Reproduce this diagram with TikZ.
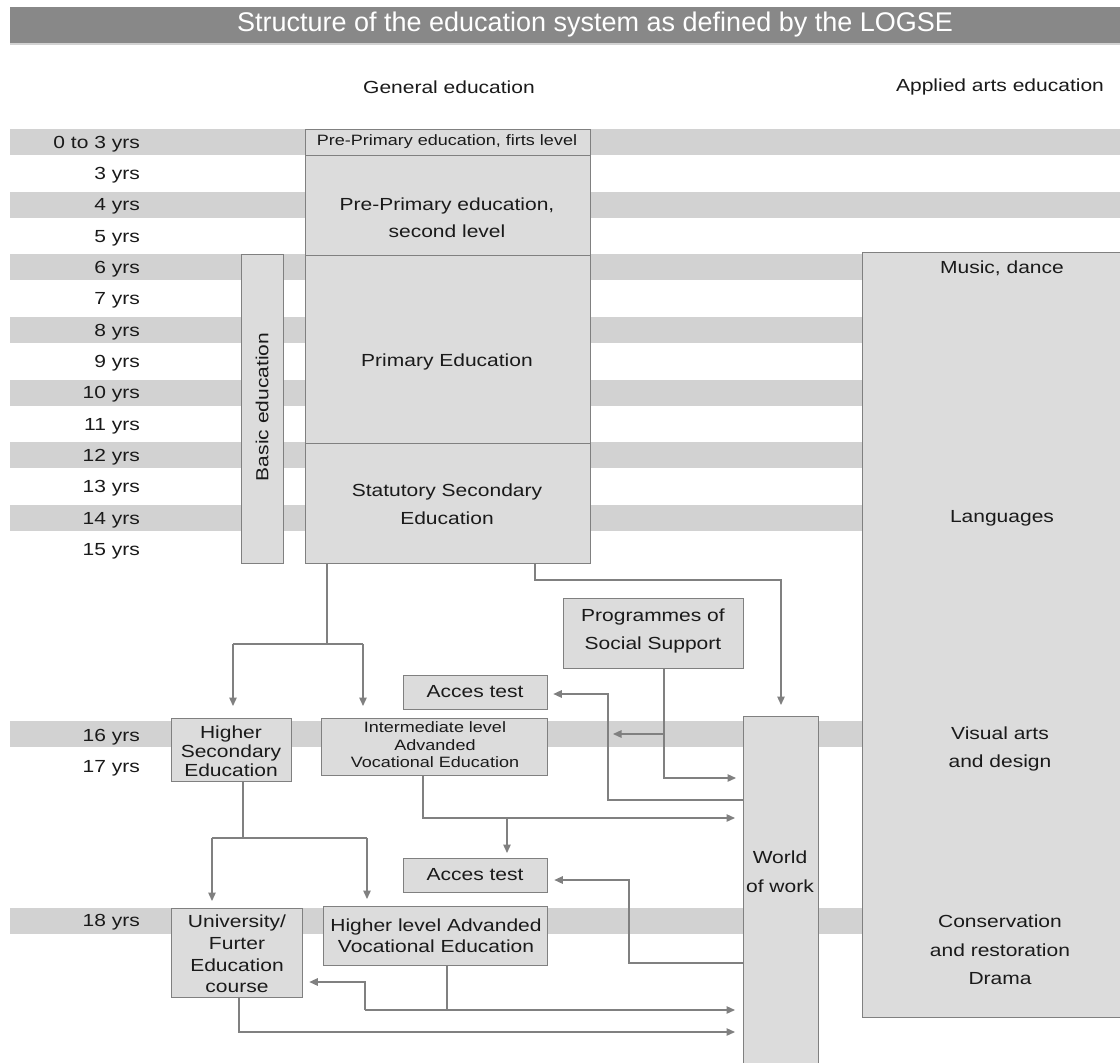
\documentclass[tikz,border=0pt]{standalone}
\usepackage{fontspec}
\setmainfont{Liberation Sans}[FakeStretch=1.2]
\newfontfamily\titlefont{Liberation Sans}
\usetikzlibrary{arrows.meta}
\definecolor{bandgray}{HTML}{D2D2D2}
\definecolor{boxgray}{HTML}{DCDCDC}
\definecolor{linegray}{HTML}{808080}
\definecolor{titlegray}{HTML}{888888}
\definecolor{txtcol}{HTML}{1A1A1A}
\newcommand\fsz[2]{\fontsize{#1}{#2}\selectfont}
\begin{document}
\begin{tikzpicture}[x=1pt,y=-1pt,
  box/.style={draw=linegray, line width=1.3pt, fill=boxgray, inner sep=0pt, anchor=north west},
  lbl/.style={text=txtcol, inner sep=0pt, align=center, font=\fsz{17.5}{21}},
  yrs/.style={text=txtcol, inner sep=0pt, anchor=east, font=\fsz{17.5}{20}, text height=12.5pt, text depth=0pt},
  band/.style={fill=bandgray},
  conn/.style={draw=linegray, line width=1.3pt},
  arr/.style={conn, -{Triangle[length=8.5pt,width=7.5pt]}}]
\useasboundingbox (0,0) rectangle (1120,1063);
\fill[white] (0,0) rectangle (1120,1063);
% title
\fill[titlegray] (10,7) rectangle (1120,43);
\draw[color=bandgray, line width=1.5pt] (10,44) -- (1120,44);
\node[lbl, text=white, font=\titlefont\fsz{27}{30}] (title) at (595,25) {Structure of the education system as defined by the LOGSE};
\node[lbl] (hgen) at (449,87) {General education};
\node[lbl] (harts) at (1000,87) {Applied arts education};
% bands
\foreach \i in {0,2,...,12}{
  \fill[band] (10,{142+31.33*\i-13}) rectangle (1120,{142+31.33*\i+13});
}
\fill[band] (10,721) rectangle (1120,747);
\fill[band] (10,908) rectangle (1120,934);
% row labels
\foreach \t [count=\k from 0] in {0 to 3 yrs,3 yrs,4 yrs,5 yrs,6 yrs,7 yrs,8 yrs,9 yrs,10 yrs,11 yrs,12 yrs,13 yrs,14 yrs,15 yrs}{
  \node[yrs] (row\k) at (140,{142+31.33*\k}) {\t};
}
\node[yrs] (row16) at (140,735) {16 yrs};
\node[yrs] (row17) at (140,766) {17 yrs};
\node[yrs] (row18) at (140,920) {18 yrs};
% boxes
\node[box, minimum width=285pt, minimum height=26pt] (pp1) at (305,129) {};
\node[box, minimum width=285pt, minimum height=100pt] (pp2) at (305,155) {};
\node[box, minimum width=285pt, minimum height=188pt] (prim) at (305,255) {};
\node[box, minimum width=285pt, minimum height=120pt] (stat) at (305,443) {};
\node[box, minimum width=42pt, minimum height=309pt] (basic) at (241,254) {};
\node[box, minimum width=270pt, minimum height=765pt] (arts) at (862,252) {};
\node[box, minimum width=180pt, minimum height=70pt] (prog) at (563,598) {};
\node[box, minimum width=144pt, minimum height=34pt] (acc1) at (403,675) {};
\node[box, minimum width=226pt, minimum height=57pt] (inter) at (321,718) {};
\node[box, minimum width=120pt, minimum height=63pt] (hse) at (171,718) {};
\node[box, minimum width=75pt, minimum height=360pt] (wow) at (743,716) {};
\node[box, minimum width=144pt, minimum height=34pt] (acc2) at (403,858) {};
\node[box, minimum width=224pt, minimum height=59pt] (hlv) at (323,906) {};
\node[box, minimum width=131pt, minimum height=89pt] (univ) at (171,908) {};
% box texts
\node[lbl, font=\fsz{15}{18}] (tpp1) at (447,142) {Pre-Primary education, firts level};
\node[lbl, font=\fsz{17.5}{27}] (tpp2) at (447,218) {Pre-Primary education,\\second level};
\node[lbl] (tprim) at (447,362) {Primary Education};
\node[lbl, font=\fsz{17.5}{28}] (tstat) at (447,504) {Statutory Secondary\\Education};
\node[lbl, rotate=90] (tbasic) at (262,407) {Basic education};
\node[lbl] (tmus) at (1002,268) {Music, dance};
\node[lbl] (tlang) at (1002,518) {Languages};
\node[lbl, font=\fsz{17.5}{28}] (tvis) at (1000,749) {Visual arts\\and design};
\node[lbl, font=\fsz{17.5}{28.5}] (tcons) at (1000,950) {Conservation\\and restoration\\Drama};
\node[lbl, font=\fsz{17.5}{28}] (tprog) at (653,631) {Programmes of\\Social Support};
\node[lbl] (tacc1) at (475,692) {Acces test};
\node[lbl] (tacc2) at (475,875) {Acces test};
\node[lbl, font=\fsz{15}{17.5}] (tinter) at (435,745) {Intermediate level\\Advanded\\Vocational Education};
\node[lbl, font=\fsz{17.5}{19}] (thse) at (231,751) {Higher\\Secondary\\Education};
\node[lbl, font=\fsz{17.5}{21}] (thlv) at (436,936) {Higher level Advanded\\Vocational Education};
\node[lbl, font=\fsz{17.5}{21.7}] (tuniv) at (237,954) {University/\\Furter\\Education\\course};
\node[lbl, font=\fsz{17.5}{29}] (twow) at (780,872) {World\\of work};
% connectors
\coordinate (c1) at (327,644);
\coordinate (c1l) at (233,644);
\coordinate (c1r) at (363,644);
\draw[conn] (stat.south -| c1) -- (c1);
\draw[conn] (c1l) -- (c1r);
\draw[arr, shorten >=12pt] (c1l) -- (hse.north -| c1l);
\draw[arr, shorten >=12pt] (c1r) -- (inter.north -| c1r);
\coordinate (c2a) at (535,580);
\coordinate (c2b) at (781,580);
\draw[arr, shorten >=11pt] (stat.south -| c2a) -- (c2a) -- (c2b) -- (wow.north -| c2b);
\coordinate (c3a) at (664,778);
\coordinate (c3b) at (664,734);
\coordinate (c3c) at (613,734);
\draw[arr, shorten >=7pt] (prog.south -| c3a) -- (c3a) -- (wow.west |- c3a);
\draw[arr] (c3b) -- (c3c);
\coordinate (c4a) at (608,800);
\coordinate (c4b) at (608,694);
\draw[arr, shorten >=5pt] (wow.west |- c4a) -- (c4a) -- (c4b) -- (acc1.east |- c4b);
\coordinate (c5a) at (423,818);
\coordinate (c5b) at (507,818);
\draw[arr, shorten >=8pt] (inter.south -| c5a) -- (c5a) -- (wow.west |- c5a);
\draw[arr, shorten >=5pt] (c5b) -- (acc2.north -| c5b);
\coordinate (c6) at (243,838);
\coordinate (c6l) at (212,838);
\coordinate (c6r) at (367,838);
\draw[conn] (hse.south -| c6) -- (c6);
\draw[conn] (c6l) -- (c6r);
\draw[arr, shorten >=7pt] (c6l) -- (univ.north -| c6l);
\draw[arr, shorten >=7pt] (c6r) -- (hlv.north -| c6r);
\coordinate (c7a) at (629,963);
\coordinate (c7b) at (629,880);
\draw[arr, shorten >=6pt] (wow.west |- c7a) -- (c7a) -- (c7b) -- (acc2.east |- c7b);
\coordinate (c8a) at (447,1010);
\coordinate (c8b) at (365,1010);
\coordinate (c8c) at (365,982);
\draw[conn] (hlv.south -| c8a) -- (c8a);
\draw[arr, shorten >=8pt] (c8b) -- (wow.west |- c8b);
\draw[arr, shorten >=6pt] (c8b) -- (c8c) -- (univ.east |- c8c);
\coordinate (c9) at (239,1032);
\draw[arr, shorten >=8pt] (univ.south -| c9) -- (c9) -- (wow.west |- c9);
\end{tikzpicture}
\end{document}
